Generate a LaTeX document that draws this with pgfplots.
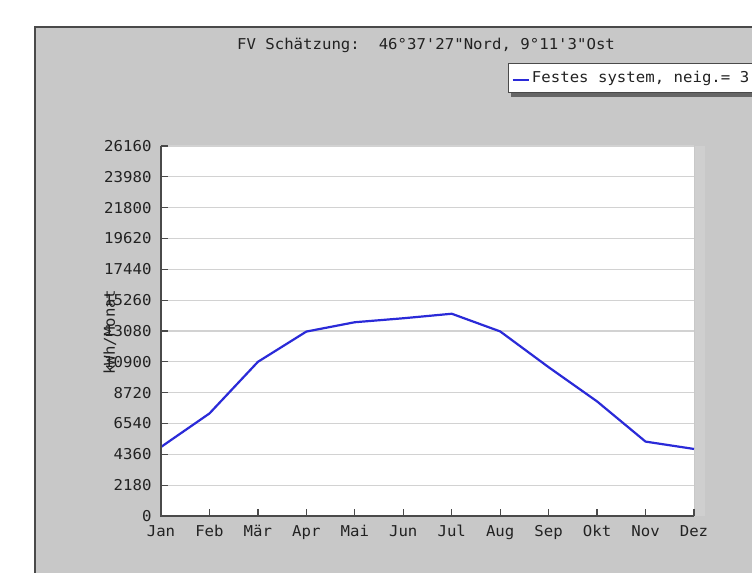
\documentclass[border=0pt]{standalone}
\usepackage{pgfplots}
\pgfplotsset{compat=1.18}
\usepackage{fontspec}
\setmainfont{DejaVu Sans Mono}
\newfontfamily\cf[FakeStretch=1.05]{DejaVu Sans Mono}
\definecolor{panel}{HTML}{C8C8C8}
\definecolor{panellight}{HTML}{CFCFCF}
\definecolor{frame}{HTML}{4A4A4A}
\definecolor{gridc}{HTML}{D2D2D2}
\definecolor{pvblue}{HTML}{2A2AD8}
\definecolor{txt}{HTML}{222222}
\pgfplotstableread{
x y
0 4880
1 7250
2 10900
3 13040
4 13700
5 13980
6 14300
7 13050
8 10520
9 8100
10 5260
11 4740
}\pvdata
\begin{document}
\begin{tikzpicture}
\useasboundingbox (0,0) rectangle (752bp,573bp);
\clip (0,0) rectangle (752bp,573bp);
\fill[white] (0,0) rectangle (752bp,573bp);
\fill[panel] (35bp,-5bp) rectangle (760bp,546bp);
\fill[panellight] (695bp,57bp) rectangle (705bp,427bp);
\draw[frame, line width=2.5bp] (35bp,-5bp) -- (35bp,546bp) -- (760bp,546bp);
% legend drop shadow
\fill[black!60] (511bp,476bp) rectangle (800bp,507bp);
\node[font=\cf\fontsize{15}{17}\selectfont, text=txt, anchor=center] at (426bp,528bp) {FV Schätzung:\ \ 46°37'27"Nord, 9°11'3"Ost};
\begin{axis}[
  at={(161bp,57bp)}, anchor=south west,
  scale only axis, width=533bp, height=370bp,
  xmin=0, xmax=11, ymin=0, ymax=26160,
  xtick={0,...,11},
  xticklabels={Jan,Feb,Mär,Apr,Mai,Jun,Jul,Aug,Sep,Okt,Nov,Dez},
  ytick={0,2180,4360,6540,8720,10900,13080,15260,17440,19620,21800,23980,26160},
  scaled y ticks=false,
  yticklabel style={/pgf/number format/1000 sep={}, xshift=-6bp},
  xticklabel style={yshift=-6bp},
  /pgf/number format/assume math mode=true,
  axis line style={draw=none},
  xtick pos=lower, ytick pos=left,
  tick style={frame, line width=1.3bp},
  major tick length=7bp,
  tick align=inside,
  ymajorgrids, grid style={gridc, line width=1.1bp},
  axis background/.style={fill=white},
  extra description/.code={
    \draw[frame, line width=1.3bp] (axis description cs:0,1) -- (axis description cs:0,0) -- (axis description cs:1,0);
  },
  tick label style={font=\cf\fontsize{15}{17}\selectfont, text=txt},
  ylabel={kWh/Monat},
  ylabel style={at={(axis description cs:-0.096,0.497)}, anchor=center, font=\cf\fontsize{15}{17}\selectfont, text=txt},
  legend style={at={(axis description cs:0.651,1.224)}, anchor=north west,
    draw=frame, fill=white, line width=1bp,
    font=\cf\fontsize{15}{17}\selectfont, text=txt,
    inner xsep=3bp, inner ysep=6bp},
  legend cell align=left,
  legend image code/.code={\draw[pvblue, line width=2.5bp] (0bp,-2bp) -- (16bp,-2bp);},
]
\addplot[pvblue, line width=2.2bp] table[x=x, y=y] {\pvdata};
\addlegendentry{\makebox[300bp][l]{Festes system, neig.= 3}}
\end{axis}
\end{tikzpicture}
\end{document}
